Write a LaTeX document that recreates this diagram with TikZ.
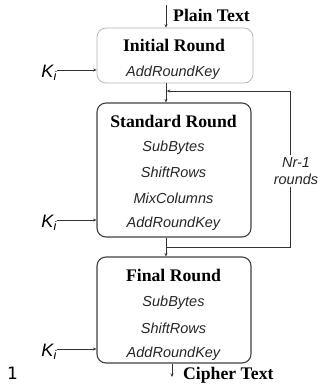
\documentclass[tikz,border=0pt]{standalone}
\usepackage{fontspec}
\setmainfont{Liberation Serif}
\setsansfont{Liberation Sans}
\newfontfamily\dejavu{DejaVu Sans}
\usetikzlibrary{arrows.meta,calc}
\tikzset{
  roundbox/.style={draw=black!75, line width=1.1pt, rounded corners=9pt, minimum width=154pt, inner sep=0pt},
  lightbox/.style={draw=black!30, line width=0.7pt, rounded corners=9pt, minimum width=156pt, inner sep=0pt},
  title/.style={font=\fontsize{17.7}{20}\selectfont\bfseries, inner sep=0pt},
  op/.style={font=\sffamily\itshape\fontsize{14.5}{18}\selectfont, text=black!85, inner sep=0pt},
  keylab/.style={font=\sffamily\itshape\fontsize{18}{20}\selectfont, inner sep=0pt},
  arr/.style={draw=black!80, line width=0.8pt, -{Stealth[length=3.5pt,width=3pt]}},
  ln/.style={draw=black!80, line width=0.8pt},
}
\begin{document}
\begin{tikzpicture}[x=1pt,y=1pt]
\useasboundingbox (0,0) rectangle (322,-385);
% boxes
\node[lightbox, minimum height=55pt] (init) at (175,-55.5) {};
\node[roundbox, minimum height=134pt] (std) at (174,-170) {};
\node[roundbox, minimum height=106pt] (fin) at (174,-310) {};
% texts
\node[title, anchor=west] (plain) at (173,-15) {Plain Text};
\node[title] (t1) at (174,-45.5) {Initial Round};
\node[op] (o11) at (173,-72.5) {AddRoundKey};
\node[title] (t2) at (173.5,-121) {Standard Round};
\node[op] (o21) at (173.5,-147.5) {SubBytes};
\node[op] (o22) at (173.5,-172.5) {ShiftRows};
\node[op] (o23) at (173.5,-198) {MixColumns};
\node[op] (o24) at (173.5,-224) {AddRoundKey};
\node[title] (t3) at (173.5,-275) {Final Round};
\node[op] (o31) at (173.5,-302.5) {SubBytes};
\node[op] (o32) at (173.5,-328) {ShiftRows};
\node[op] (o33) at (173.5,-354) {AddRoundKey};
\node[title, anchor=west] (cipher) at (183,-375) {Cipher Text};
\node[font=\dejavu\fontsize{17}{20}\selectfont, inner sep=0pt] (one) at (12.5,-373.5) {1};
\node[op, align=center, inner sep=2pt] (nr) at (296,-171) {Nr-1\\[-0.5pt]rounds};
% keys
\node[keylab, anchor=east] (k1) at (57,-73) {K\textsubscript{\itshape i}};
\node[keylab, anchor=east] (k2) at (57,-223) {K\textsubscript{\itshape i}};
\node[keylab, anchor=east] (k3) at (57,-352) {K\textsubscript{\itshape i}};
\draw[arr] ([yshift=3pt]k1.east) -- ([yshift=3pt]k1.east -| init.west);
\draw[arr] ([yshift=3pt]k2.east) -- ([yshift=3pt]k2.east -| std.west);
\draw[arr] ([yshift=3pt]k3.east) -- ([yshift=3pt]k3.east -| fin.west);
% main flow
\coordinate (pin) at (166,-5);
\draw[arr] (pin) -- (pin |- init.north);
\draw[arr] (pin |- init.south) -- (pin |- std.north);
\draw[arr] (pin |- std.south) -- (pin |- fin.north);
\coordinate (cout) at (172,-377);
\draw[arr] (cout |- fin.south) -- (cout);
% feedback loop
\coordinate (fbb) at (166,-247);
\coordinate (fbr) at (290,-247);
\coordinate (fbt) at (290,-91);
\draw[ln] (fbb) -- (fbr) -- (fbr |- nr.south);
\draw[arr] (fbr |- nr.north) -- (fbt) -- ($(fbt -| pin)+(0.8,0)$);
\end{tikzpicture}
\end{document}
